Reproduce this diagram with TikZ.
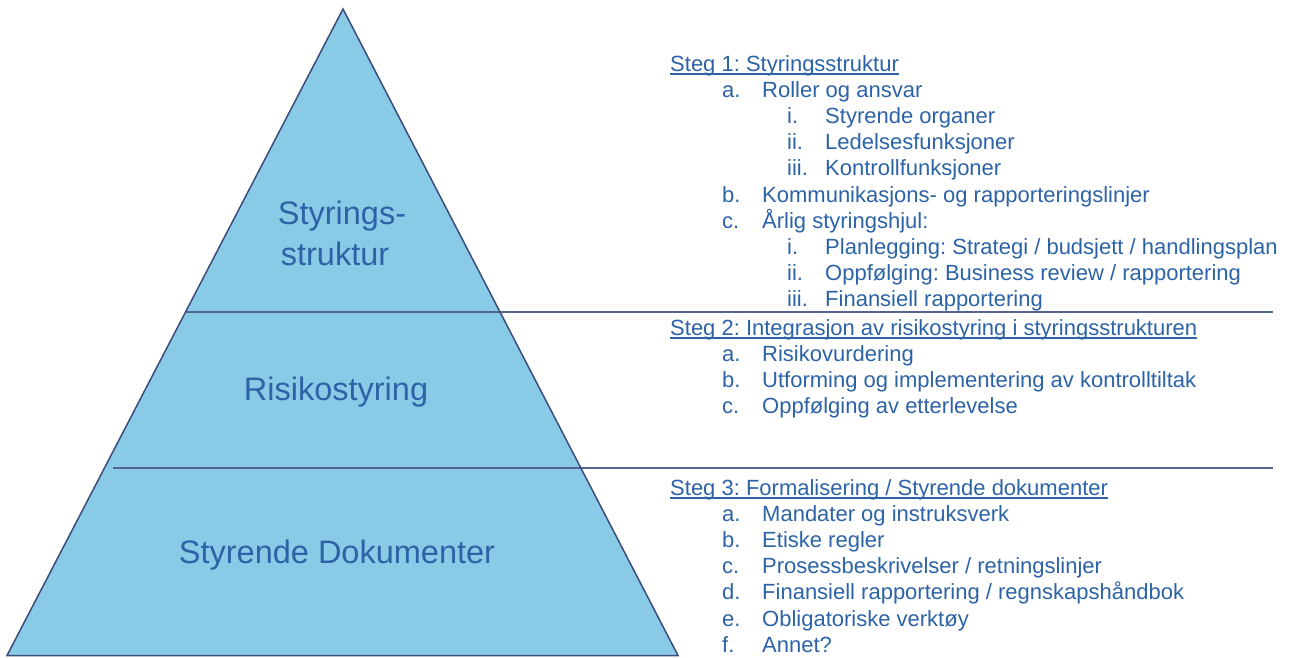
\documentclass[tikz,border=0pt]{standalone}
\usepackage{fontspec}
\setmainfont{Liberation Sans}
\frenchspacing
\definecolor{trifill}{HTML}{89CBE6}
\definecolor{triedge}{HTML}{3C4C7E}
\definecolor{sepline}{HTML}{56658F}
\definecolor{txtblue}{HTML}{2C63A7}
\newcommand\stegul[1]{\setbox0\hbox{#1}\rlap{\color{txtblue}\rule[-3.6pt]{\wd0}{1.3pt}}\box0}
\tikzset{
  big/.style={inner sep=0pt, anchor=base, text=txtblue, font=\fontsize{32.5}{40}\selectfont},
  item/.style={inner sep=0pt, anchor=base west, text=txtblue, font=\fontsize{22}{26}\selectfont},
  sep/.style={draw=sepline, line width=1.3pt},
}
\begin{document}
\begin{tikzpicture}[x=1pt,y=-1pt]
\useasboundingbox (0,0) rectangle (1289,657);
\coordinate (apex) at (343,9);
\coordinate (bl) at (7,655.5);
\coordinate (br) at (678,655.5);
\fill[trifill] (apex)--(bl)--(br)--cycle;
\coordinate (s1a) at (186,312);
\coordinate (s1b) at (1273,312);
\coordinate (s2a) at (113,468);
\coordinate (s2b) at (1273,468);
\draw[sep] (s1a) -- (s1b);
\draw[sep] (s2a) -- (s2b);
\draw[triedge, line width=1.5pt, line join=miter] (apex)--(bl)--(br)--cycle;

\node[big] (l1a) at (342,224) {Styrings-};
\node[big] (l1b) at (335,265) {struktur};
\node[big] (l2) at (336,400) {Risikostyring};
\node[big] (l3) at (337,563) {Styrende Dokumenter};

% Steg 1
\node[item] (h1) at (670,71) {\stegul{Steg 1: Styringsstruktur}};
\node[item] (a1l) at (722,97.2) {a.};   \node[item] (a1) at (762,97.2) {Roller og ansvar};
\node[item] (a1il) at (787,123.4) {i.};  \node[item] (a1i) at (825,123.4) {Styrende organer};
\node[item] (a1iil) at (787,149.6) {ii.}; \node[item] (a1ii) at (825,149.6) {Ledelsesfunksjoner};
\node[item] (a1iiil) at (787,175.8) {iii.}; \node[item] (a1iii) at (825,175.8) {Kontrollfunksjoner};
\node[item] (b1l) at (722,202) {b.};   \node[item] (b1) at (762,202) {Kommunikasjons- og rapporteringslinjer};
\node[item] (c1l) at (722,228.2) {c.};   \node[item] (c1) at (762,228.2) {Årlig styringshjul:};
\node[item] (c1il) at (787,254.4) {i.};  \node[item] (c1i) at (825,254.4) {Planlegging: Strategi / budsjett / handlingsplan};
\node[item] (c1iil) at (787,280.6) {ii.}; \node[item] (c1ii) at (825,280.6) {Oppfølging: Business review / rapportering};
\node[item] (c1iiil) at (787,306.8) {iii.}; \node[item] (c1iii) at (825,306.8) {Finansiell rapportering};

% Steg 2
\node[item] (h2) at (670,335) {\stegul{Steg 2: Integrasjon av risikostyring i styringsstrukturen}};
\node[item] (a2l) at (722,361.2) {a.}; \node[item] (a2) at (762,361.2) {Risikovurdering};
\node[item] (b2l) at (722,387.4) {b.}; \node[item] (b2) at (762,387.4) {Utforming og implementering av kontrolltiltak};
\node[item] (c2l) at (722,413.6) {c.}; \node[item] (c2) at (762,413.6) {Oppfølging av etterlevelse};

% Steg 3
\node[item] (h3) at (670,495) {\stegul{Steg 3: Formalisering / Styrende dokumenter}};
\node[item] (a3l) at (722,521.2) {a.}; \node[item] (a3) at (762,521.2) {Mandater og instruksverk};
\node[item] (b3l) at (722,547.4) {b.}; \node[item] (b3) at (762,547.4) {Etiske regler};
\node[item] (c3l) at (722,573.6) {c.}; \node[item] (c3) at (762,573.6) {Prosessbeskrivelser / retningslinjer};
\node[item] (d3l) at (722,599.8) {d.}; \node[item] (d3) at (762,599.8) {Finansiell rapportering / regnskapshåndbok};
\node[item] (e3l) at (722,626) {e.}; \node[item] (e3) at (762,626) {Obligatoriske verktøy};
\node[item] (f3l) at (722,652.2) {f.}; \node[item] (f3) at (762,652.2) {Annet?};
\end{tikzpicture}
\end{document}
